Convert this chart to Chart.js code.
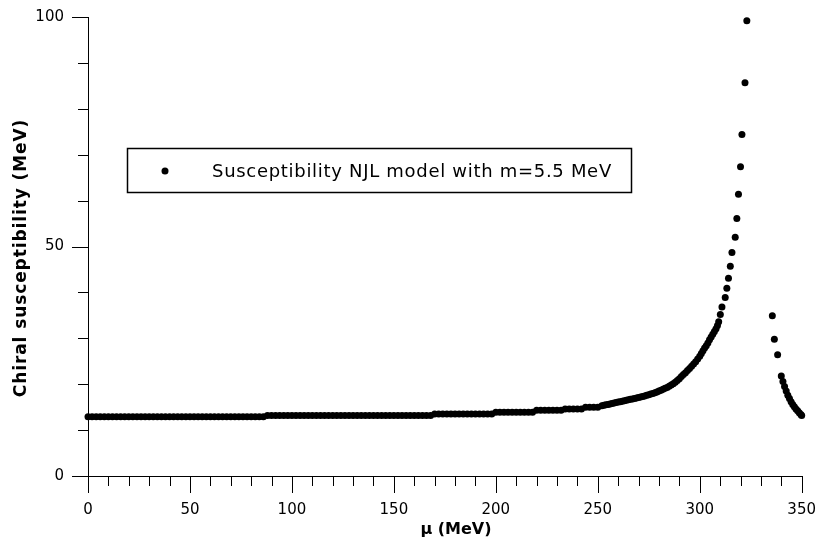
<!DOCTYPE html>
<html>
<head>
<meta charset="utf-8">
<script src="https://cdn.jsdelivr.net/npm/chart.js@4/dist/chart.umd.min.js"></script>
<style>
  html, body { margin: 0; padding: 0; background: #fff; }
  #wrap { width: 824px; height: 542px; }
</style>
</head>
<body>
<div id="wrap"><canvas id="c" width="824" height="542"></canvas></div>
<script>
// Chemical potential (MeV) and chiral susceptibility (MeV) of the NJL model, m = 5.5 MeV
const mu = [
  0,2,4,6,8,10,12,14,16,18,20,22,24,26,28,30,32,34,36,38,40,42,44,46,48,50,52,54,56,58,60,62,64,66,68,70,72,74,76,78,80,82,84,86,
  88,90,92,94,96,98,100,102,104,106,108,110,112,114,116,118,120,122,124,126,128,130,132,134,136,138,140,142,144,146,148,150,152,154,156,158,160,162,164,166,168,
  170,172,174,176,178,180,182,184,186,188,190,192,194,196,198,
  200,202,204,206,208,210,212,214,216,218,
  220,222,224,226,228,230,232,
  234,236,238,240,242,
  244,246,248,250,
  252,253,254,255,256,257,258,259,260,261,262,263,264,265,266,267,268,269,270,271,272,273,274,275,276,277,278,279,280,
  281,282,283,284,285,286,287,288,289,290,291,292,293,294,295,296,297,298,299,300,
  300.8,301.6,302.4,303.2,304.0,304.8,305.6,306.4,307.2,308.0,308.7,309.3,310.1,310.9,312.5,313.3,314.1,315.0,315.8,317.4,318.2,319.0,320.0,320.7,322.2,323.1,
  335.6,336.6,338.2,340.0,340.8,341.6,342.4,343.2,344.0,344.8,345.6,346.4,347.2,348.0,348.8,349.6,350.0
];
const chi = [
  12.9,12.9,12.9,12.9,12.9,12.9,12.9,12.9,12.9,12.9,12.9,12.9,12.9,12.9,12.9,12.9,12.9,12.9,12.9,12.9,12.9,12.9,12.9,12.9,12.9,12.9,12.9,12.9,12.9,12.9,12.9,12.9,12.9,12.9,12.9,12.9,12.9,12.9,12.9,12.9,12.9,12.9,12.9,12.9,
  13.2,13.2,13.2,13.2,13.2,13.2,13.2,13.2,13.2,13.2,13.2,13.2,13.2,13.2,13.2,13.2,13.2,13.2,13.2,13.2,13.2,13.2,13.2,13.2,13.2,13.2,13.2,13.2,13.2,13.2,13.2,13.2,13.2,13.2,13.2,13.2,13.2,13.2,13.2,13.2,13.2,
  13.5,13.5,13.5,13.5,13.5,13.5,13.5,13.5,13.5,13.5,13.5,13.5,13.5,13.5,13.5,
  13.9,13.9,13.9,13.9,13.9,13.9,13.9,13.9,13.9,13.9,
  14.3,14.3,14.3,14.3,14.3,14.3,14.3,
  14.6,14.6,14.6,14.6,14.6,
  15.0,15.0,15.0,15.0,
  15.3,15.4,15.5,15.6,15.7,15.8,15.9,16.0,16.1,16.2,16.3,16.4,16.5,16.6,16.7,16.8,16.9,17.0,17.1,17.2,17.3,17.45,17.6,17.7,17.85,18.0,18.15,18.3,18.5,
  18.7,18.9,19.1,19.3,19.55,19.8,20.1,20.4,20.8,21.2,21.7,22.1,22.5,23.0,23.4,23.9,24.4,24.9,25.5,26.1,
  26.7,27.3,27.9,28.4,29.0,29.7,30.3,30.9,31.5,32.1,32.8,33.6,35.2,36.8,38.9,40.9,43.1,45.7,48.7,52.0,56.1,61.4,67.4,74.4,85.7,99.2,
  34.9,29.8,26.4,21.8,20.6,19.5,18.5,17.6,16.9,16.2,15.6,15.1,14.6,14.2,13.8,13.4,13.2
];
const xTickLabels = [0, 50, 100, 150, 200, 250, 300, 350];
const yTickLabels = [0, 50, 100];
const seriesLabel = 'Susceptibility NJL model with m=5.5 MeV';
const xTitle = 'μ (MeV)';
const yTitle = 'Chiral susceptibility (MeV)';

const FONT = "'DejaVu Sans', Verdana, sans-serif";
Chart.defaults.font.family = FONT;
Chart.defaults.font.size = 15;
Chart.defaults.color = '#000';

const points = mu.map((x, i) => ({ x, y: chi[i] }));

// Tick marks: long on labelled values, short elsewhere
const tickMarks = {
  id: 'tickMarks',
  afterDraw(chart) {
    const { ctx, chartArea, scales } = chart;
    ctx.save();
    ctx.strokeStyle = '#000';
    ctx.lineWidth = 1;
    scales.x.ticks.forEach(t => {
      const px = Math.round(scales.x.getPixelForValue(t.value)) + 0.5;
      const len = xTickLabels.includes(t.value) ? 17 : 10;
      ctx.beginPath();
      ctx.moveTo(px, chartArea.bottom);
      ctx.lineTo(px, chartArea.bottom + len);
      ctx.stroke();
    });
    scales.y.ticks.forEach(t => {
      const py = Math.round(scales.y.getPixelForValue(t.value)) + 0.5;
      const len = yTickLabels.includes(t.value) ? 16 : 10;
      ctx.beginPath();
      ctx.moveTo(chartArea.left, py);
      ctx.lineTo(chartArea.left - len, py);
      ctx.stroke();
    });
    ctx.restore();
  }
};

// Axis titles and the boxed legend
const annotations = {
  id: 'annotations',
  afterDraw(chart) {
    const { ctx } = chart;
    ctx.save();
    ctx.fillStyle = '#000';
    ctx.font = "bold 16px " + FONT;
    ctx.textAlign = 'center';
    ctx.textBaseline = 'middle';
    ctx.fillText(xTitle, 456, 530);
    ctx.save();
    ctx.translate(22, 258);
    ctx.rotate(-Math.PI / 2);
    ctx.font = "bold 17px " + FONT;
    ctx.letterSpacing = '0.9px';
    ctx.fillText(yTitle, 0, 0);
    ctx.restore();

    // legend box
    ctx.fillStyle = '#fff';
    ctx.fillRect(127, 148, 505, 45);
    ctx.strokeStyle = '#000';
    ctx.lineWidth = 1.5;
    ctx.strokeRect(127.5, 148.5, 504, 44);
    ctx.fillStyle = '#000';
    ctx.beginPath();
    ctx.arc(165, 171, 3.5, 0, Math.PI * 2);
    ctx.fill();
    ctx.font = "18px " + FONT;
    ctx.letterSpacing = '0.7px';
    ctx.textAlign = 'left';
    ctx.fillText(chart.data.datasets[0].label, 212, 172);
    ctx.restore();
  }
};

new Chart(document.getElementById('c'), {
  type: 'scatter',
  data: {
    datasets: [{
      label: seriesLabel,
      data: points,
      pointRadius: 3.5,
      pointHoverRadius: 3.5,
      pointBackgroundColor: '#000',
      pointBorderWidth: 0,
      showLine: false,
      clip: false
    }]
  },
  options: {
    responsive: false,
    animation: false,
    events: [],
    layout: { padding: { top: 17, right: 17, left: 0, bottom: 0 } },
    plugins: { legend: { display: false }, tooltip: { enabled: false } },
    scales: {
      x: {
        type: 'linear',
        min: 0, max: 350,
        afterFit(s) { s.height = 66; },
        ticks: {
          stepSize: 10,
          autoSkip: false,
          maxRotation: 0,
          padding: 8,
          callback: v => xTickLabels.includes(v) ? String(v) : ''
        },
        grid: { display: true, drawOnChartArea: false, drawTicks: true, tickLength: 17, tickColor: 'rgba(0,0,0,0)' },
        border: { display: true, color: '#000', width: 1 }
      },
      y: {
        type: 'linear',
        min: 0, max: 100,
        afterFit(s) { s.width = 88; },
        ticks: {
          stepSize: 10,
          autoSkip: false,
          padding: 8,
          callback: v => yTickLabels.includes(v) ? String(v) : ''
        },
        grid: { display: true, drawOnChartArea: false, drawTicks: true, tickLength: 16, tickColor: 'rgba(0,0,0,0)' },
        border: { display: true, color: '#000', width: 1 }
      }
    }
  },
  plugins: [tickMarks, annotations]
});
</script>
</body>
</html>
